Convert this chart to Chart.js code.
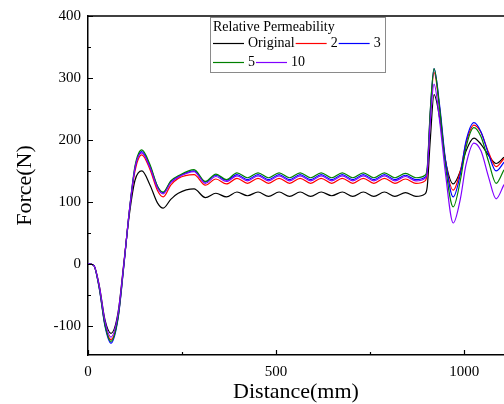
<!DOCTYPE html>
<html><head><meta charset="utf-8">
<script src="https://cdn.jsdelivr.net/npm/chart.js@4/dist/chart.umd.min.js"></script>
<style>html,body{margin:0;padding:0;background:#fff;}canvas{display:block;}</style>
</head><body>
<canvas id="c" width="504" height="404"></canvas>
<script>
// ---- data ----
const distance = [0,15,30,45,61,80,95,110,125,143,165,185,200,220,240,282,
  312,340,368,396,424,452,480,508,536,564,592,620,648,676,704,732,760,788,816,844,872,
  896,902,910,920,935,950,971,990,1005,1026,1045,1065,1085,1106];
const original = [0,-2,-35,-90,-112,-78,0,80,135,150,127,98,90,104,114,121,
  107,114,108,116,110,116,109,116,109,116,109,116,110,116,109,116,109,116,109,115,109,
  113,125,200,273,235,168,129,150,182,203,193,175,162,172];
const perm2 = [0,-2,-38,-97,-122,-85,-3,85,150,176,152,118,108,127,138,144,
  127,137,129,138,130,138,130,138,130,138,130,138,130,138,130,138,130,138,130,137,130,
  134,148,240,309,250,168,119,150,195,224,212,180,157,170];
const perm3 = [0,-2,-40,-100,-128,-88,-5,85,155,181,157,125,115,133,141,150,
  132,143,135,144,136,144,136,144,136,144,136,144,136,144,136,144,136,144,136,143,136,
  140,153,245,315,255,170,108,145,198,228,213,177,150,164];
const perm5 = [0,-2,-39,-98,-125,-86,-4,86,158,184,160,125,116,134,142,152,
  133,145,136,147,139,147,139,147,139,147,139,147,139,147,139,147,139,147,139,146,139,
  143,156,248,315,250,160,92,135,188,220,205,165,130,152];
const perm10 = [0,-2,-36,-92,-118,-80,-2,86,155,179,155,122,113,131,140,149,
  130,141,133,142,134,142,134,142,134,142,134,142,134,142,134,142,134,142,134,141,134,
  138,150,230,290,230,148,66,105,160,195,182,140,105,128];
const seriesLabels = ['Original','2','3','5','10'];
const seriesColors = ['#000000','#ff0000','#0000ff','#008000','#8000ff'];
const xMajorTicks = [0,500,1000];
const xMinorTicks = [250,750];
const yMajorTicks = [-100,0,100,200,300,400];
const yMinorTicks = [-50,50,150,250,350];
const legendTitle = 'Relative Permeability';

const FONT = "'Liberation Serif', 'Times New Roman', serif";
const allSeries = [original, perm2, perm3, perm5, perm10];

const datasets = allSeries.map((s, k) => ({
  label: seriesLabels[k],
  data: distance.map((x, i) => ({x, y: s[i]})),
  borderColor: seriesColors[k],
  backgroundColor: seriesColors[k],
  borderWidth: 1.2,
  pointRadius: 0,
  fill: false,
  cubicInterpolationMode: 'monotone',
  order: 5 - k
}));

const inwardTicks = {
  id: 'inwardTicks',
  afterDraw(chart) {
    const ctx = chart.ctx, a = chart.chartArea;
    const xs = chart.scales.x, ys = chart.scales.y;
    ctx.save();
    ctx.strokeStyle = '#000';
    ctx.lineWidth = 1.2;
    ctx.beginPath();
    const tick = (v, len, isX) => {
      if (isX) { const p = Math.round(xs.getPixelForValue(v)) + 0.5; ctx.moveTo(p, a.bottom); ctx.lineTo(p, a.bottom - len); }
      else { const p = Math.round(ys.getPixelForValue(v)) + 0.5; ctx.moveTo(a.left, p); ctx.lineTo(a.left + len, p); }
    };
    xMajorTicks.forEach(v => tick(v, 5, true));
    xMinorTicks.forEach(v => tick(v, 3, true));
    yMajorTicks.forEach(v => tick(v, 5, false));
    yMinorTicks.forEach(v => tick(v, 3, false));
    ctx.stroke();
    // top frame line
    ctx.lineWidth = 1.5;
    ctx.beginPath();
    ctx.moveTo(a.left, a.top); ctx.lineTo(a.right, a.top);
    ctx.stroke();
    ctx.restore();
  }
};

const boxLegend = {
  id: 'boxLegend',
  afterDraw(chart, args, opts) {
    const ctx = chart.ctx;
    const bx = opts.x, by = opts.y, bw = opts.w, bh = opts.h;
    ctx.save();
    ctx.fillStyle = '#fff';
    ctx.fillRect(bx, by, bw, bh);
    ctx.strokeStyle = '#8a8a8a';
    ctx.lineWidth = 1;
    ctx.strokeRect(bx + 0.5, by + 0.5, bw, bh);
    ctx.font = '14px ' + FONT;
    ctx.fillStyle = '#000';
    ctx.textBaseline = 'middle';
    ctx.textAlign = 'left';
    ctx.fillText(legendTitle, bx + 3, by + opts.titleY);
    const rows = opts.rows;
    rows.forEach((row, r) => {
      let x = bx + 3;
      const y = by + opts.rowY[r];
      row.forEach(k => {
        const ds = chart.data.datasets[k];
        ctx.strokeStyle = ds.borderColor;
        ctx.lineWidth = 1.2;
        ctx.beginPath();
        ctx.moveTo(x, Math.round(y) + 0.5); ctx.lineTo(x + opts.lineLen, Math.round(y) + 0.5);
        ctx.stroke();
        x += opts.lineLen + 4;
        ctx.fillStyle = '#000';
        ctx.fillText(ds.label, x, y);
        x += ctx.measureText(ds.label).width + 1;
      });
    });
    ctx.restore();
  }
};

new Chart(document.getElementById('c'), {
  type: 'line',
  data: { datasets },
  plugins: [inwardTicks, boxLegend],
  options: {
    responsive: false,
    animation: false,
    devicePixelRatio: 1,
    layout: { padding: { top: 16, right: 0, left: 0, bottom: 0 } },
    plugins: {
      legend: { display: false },
      tooltip: { enabled: false },
      boxLegend: { x: 210, y: 17, w: 175, h: 55, titleY: 10, rowY: [26, 45], lineLen: 31, rows: [[0,1,2],[3,4]] }
    },
    scales: {
      x: {
        type: 'linear', min: 0, max: 1106,
        afterBuildTicks: s => { s.ticks = xMajorTicks.map(v => ({value: v})); },
        afterFit: s => { s.height = 49; },
        grid: { display: false, drawTicks: false },
        border: { display: true, color: '#000', width: 1.5 },
        ticks: { padding: 8, color: '#000', font: { family: FONT, size: 15 }, maxRotation: 0, callback: v => String(v) },
        title: { display: true, text: 'Distance(mm)', color: '#000', font: { family: FONT, size: 22, lineHeight: 1.1 }, padding: { top: 0, bottom: 0 } }
      },
      y: {
        type: 'linear', min: -147, max: 400,
        afterBuildTicks: s => { s.ticks = yMajorTicks.map(v => ({value: v})); },
        afterFit: s => { s.width = 88; },
        grid: { display: false, drawTicks: false },
        border: { display: true, color: '#000', width: 1.5 },
        ticks: { padding: 7, color: '#000', font: { family: FONT, size: 15 }, callback: v => String(v) },
        title: { display: true, text: 'Force(N)', color: '#000', font: { family: FONT, size: 22, lineHeight: 1.2 }, padding: { top: 12, bottom: 0 } }
      }
    }
  }
});
</script>
</body></html>
